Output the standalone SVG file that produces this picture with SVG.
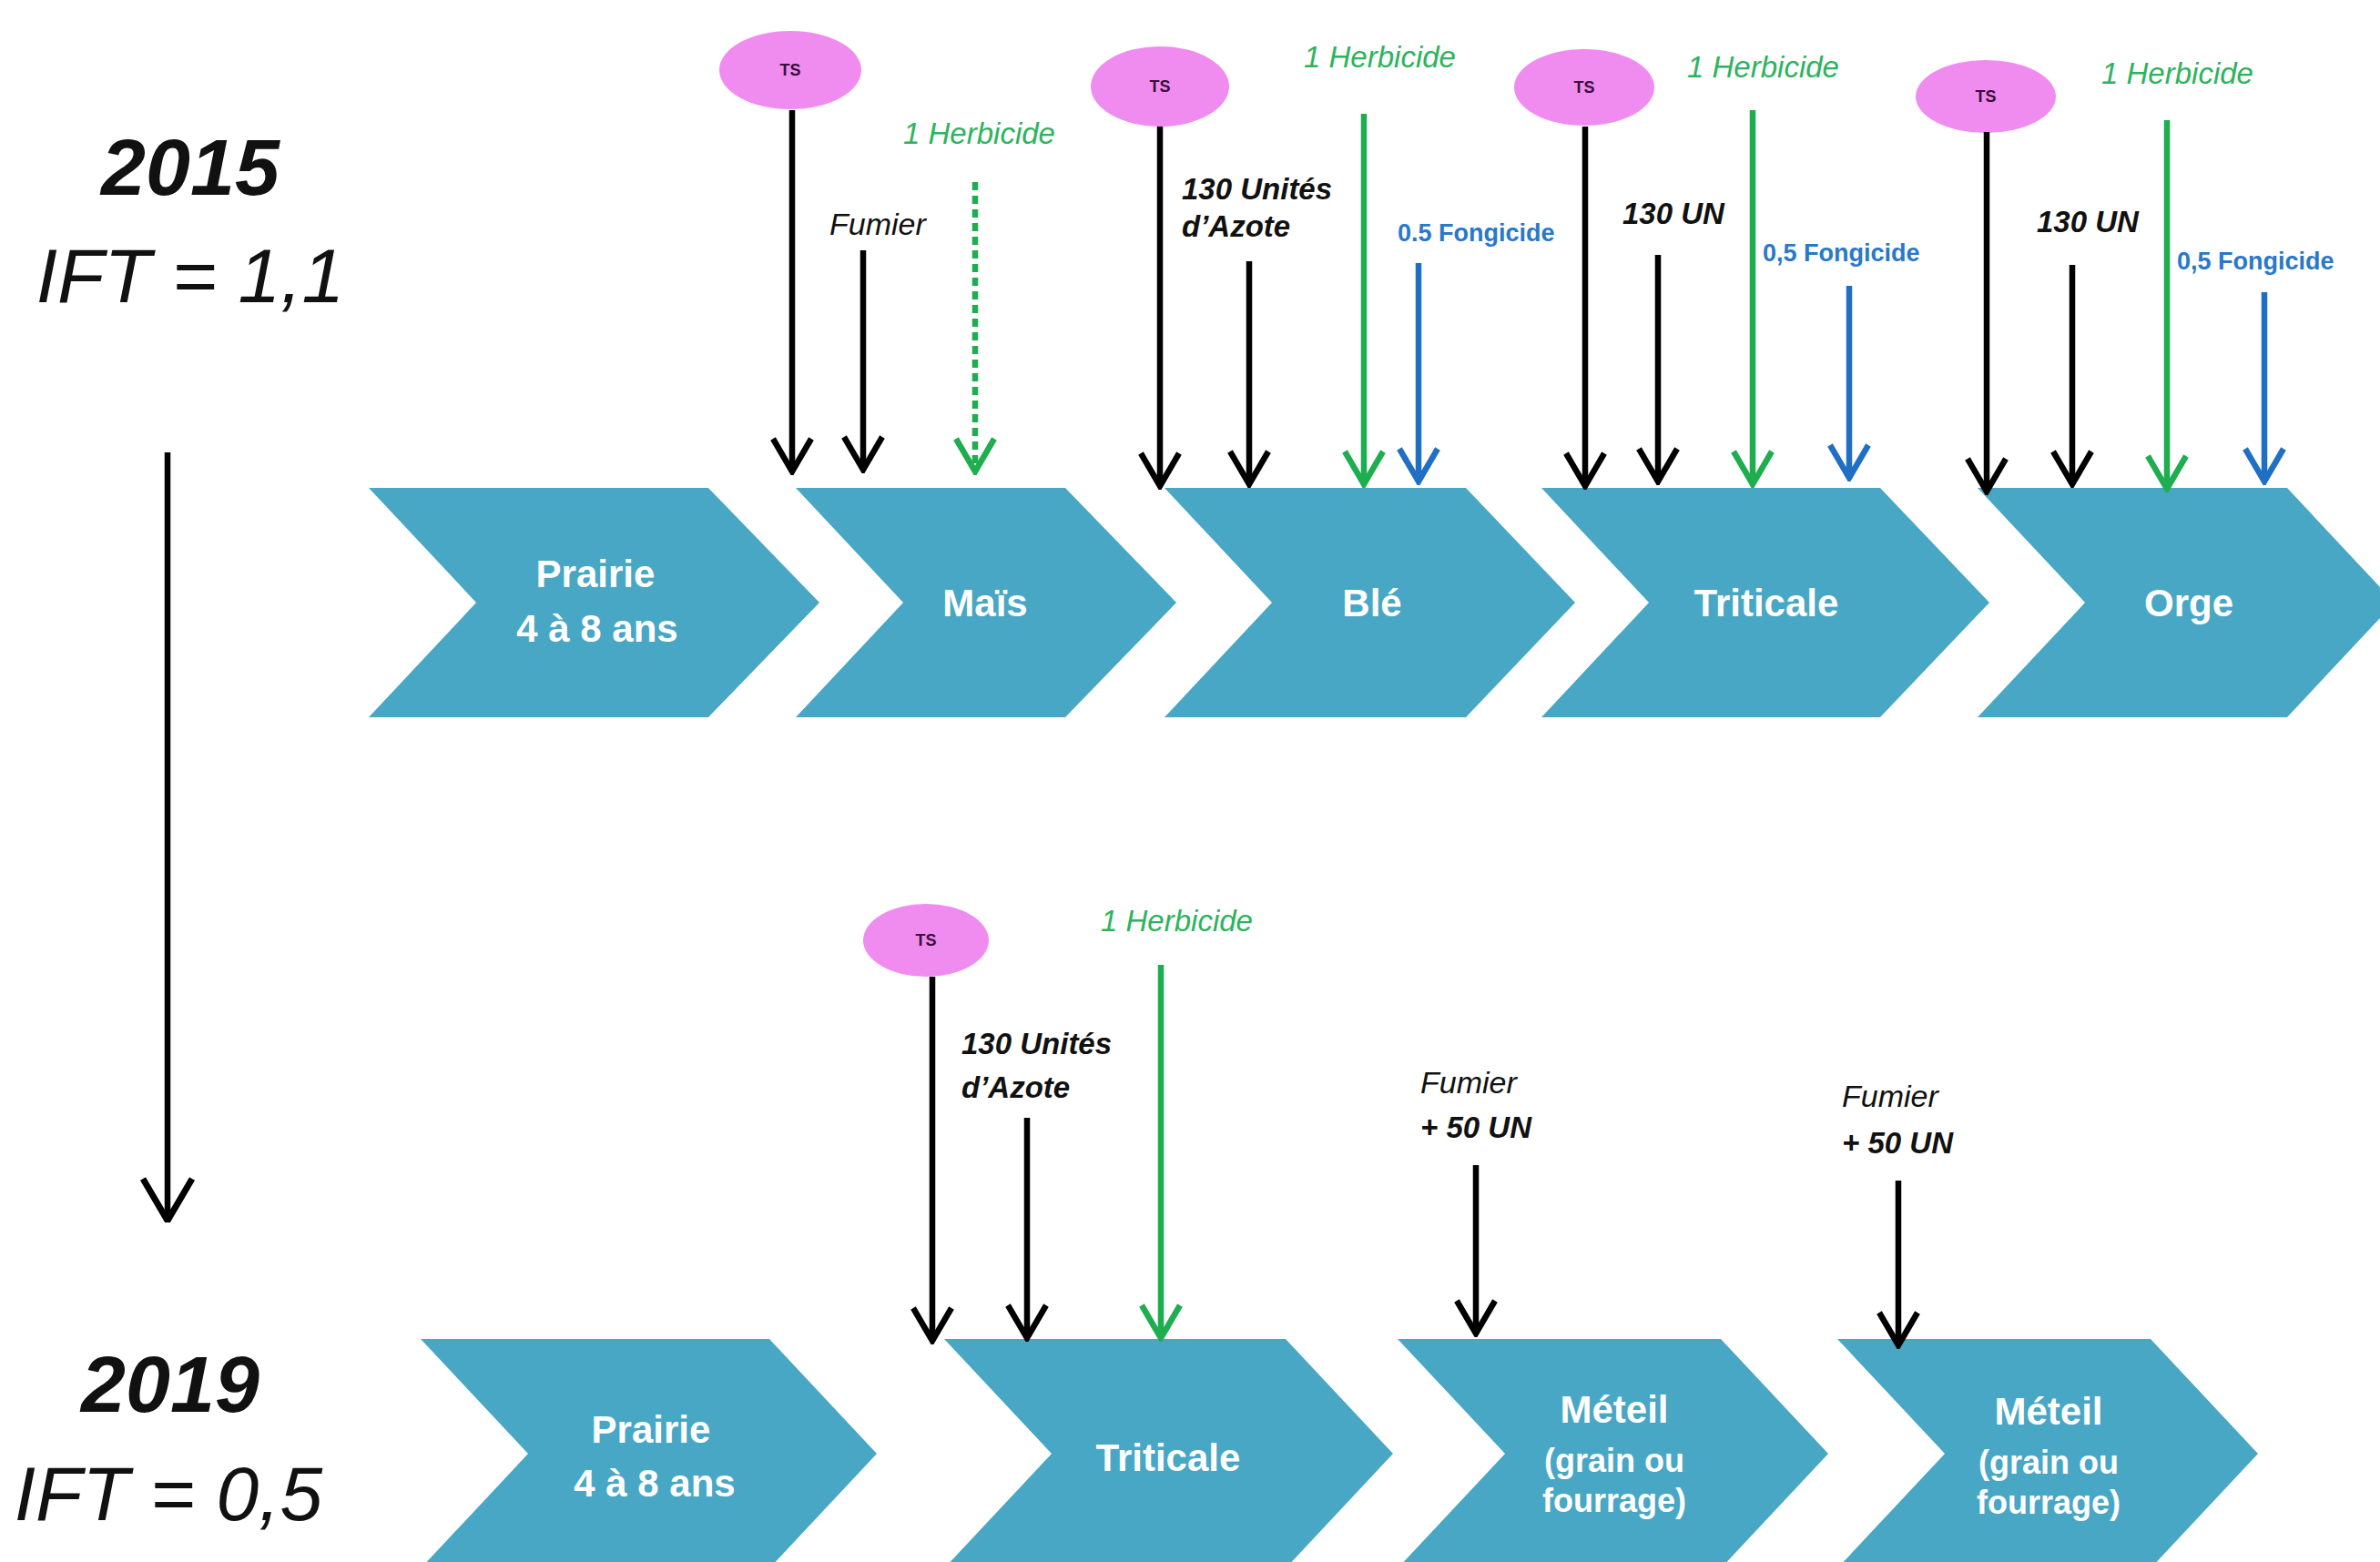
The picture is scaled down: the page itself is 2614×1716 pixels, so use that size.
<svg xmlns="http://www.w3.org/2000/svg" width="2614" height="1716" viewBox="0 0 2614 1716">
<style>
.chev{fill:#48a7c5}
.ct{font-family:"Liberation Sans",Arial,sans-serif;font-weight:bold;fill:#ffffff;text-anchor:middle;font-size:42px}
.cs{font-size:36px}
.ts{fill:#f08cf0}
.tst{font-family:"Liberation Sans",Arial,sans-serif;font-weight:bold;font-size:18px;fill:#3a0f38;text-anchor:middle}
.lb{font-family:"Liberation Sans",Arial,sans-serif;font-style:italic;font-size:34px;fill:#111}
.lbb{font-weight:bold;font-size:33px}
.gr{fill:#2db35d;font-size:33px}
.bl{font-family:"Liberation Sans",Arial,sans-serif;font-weight:bold;font-size:27px;fill:#2a78c8}
.yr{font-family:"Liberation Sans",Arial,sans-serif;font-style:italic;fill:#111;text-anchor:middle}
.ak{stroke:#000;stroke-width:6.5;fill:none}
.ag{stroke:#1ead4f;stroke-width:6.5;fill:none}
.ab{stroke:#1f6fc4;stroke-width:6.5;fill:none}
.dash{stroke-dasharray:9 6}
</style>
<defs>
<marker id="mk" viewBox="-4 -26 46 52" refX="38" refY="0" markerWidth="46" markerHeight="52" markerUnits="userSpaceOnUse" orient="auto">
<path d="M2,-21 L38,0 L2,21" fill="none" stroke="#000" stroke-width="6.5" stroke-linejoin="miter"/>
</marker>
<marker id="mg" viewBox="-4 -26 46 52" refX="38" refY="0" markerWidth="46" markerHeight="52" markerUnits="userSpaceOnUse" orient="auto">
<path d="M2,-21 L38,0 L2,21" fill="none" stroke="#1ead4f" stroke-width="6.5"/>
</marker>
<marker id="mb" viewBox="-4 -26 46 52" refX="38" refY="0" markerWidth="46" markerHeight="52" markerUnits="userSpaceOnUse" orient="auto">
<path d="M2,-21 L38,0 L2,21" fill="none" stroke="#1f6fc4" stroke-width="6.5"/>
</marker>
<marker id="mbig" viewBox="-4 -32 54 64" refX="48" refY="0" markerWidth="54" markerHeight="64" markerUnits="userSpaceOnUse" orient="auto">
<path d="M2,-27 L48,0 L2,27" fill="none" stroke="#000" stroke-width="7"/>
</marker>
</defs>
<rect width="2614" height="1716" fill="#ffffff"/>

<g id="title-2015">
<text class="yr" x="209" y="214" font-size="88" font-weight="bold">2015</text>
<text class="yr" x="209" y="332" font-size="84">IFT = 1,1</text>
</g>
<g id="title-2019">
<text class="yr" x="187" y="1551" font-size="88" font-weight="bold">2019</text>
<text class="yr" x="185" y="1670" font-size="84">IFT = 0,5</text>
</g>

<!-- 2015 row -->
<g id="n-prairie-2015">
<polygon class="chev" points="405,536 778,536 900,662 778,788 405,788 523,662"/>
<text class="ct" x="654" y="645">Prairie</text>
<text class="ct" x="656" y="705">4 à 8 ans</text>
</g>
<g id="n-mais-2015">
<polygon class="chev" points="874,536 1170,536 1292,662 1170,788 874,788 992,662"/>
<text class="ct" x="1082" y="677">Maïs</text>
</g>
<g id="n-ble-2015">
<polygon class="chev" points="1279,536 1610,536 1730,662 1610,788 1279,788 1397,662"/>
<text class="ct" x="1507" y="677">Blé</text>
</g>
<g id="n-triticale-2015">
<polygon class="chev" points="1693,536 2065,536 2185,662 2065,788 1693,788 1811,662"/>
<text class="ct" x="1940" y="677">Triticale</text>
</g>
<g id="n-orge-2015">
<polygon class="chev" points="2172,536 2512,536 2630,662 2512,788 2172,788 2290,662"/>
<text class="ct" x="2404" y="677">Orge</text>
</g>

<!-- 2019 row -->
<g id="n-prairie-2019">
<polygon class="chev" points="462,1471 845,1471 963,1597 845,1723 462,1723 580,1597"/>
<text class="ct" x="715" y="1585">Prairie</text>
<text class="ct" x="719" y="1644">4 à 8 ans</text>
</g>
<g id="n-triticale-2019">
<polygon class="chev" points="1037,1471 1412,1471 1530,1597 1412,1723 1037,1723 1155,1597"/>
<text class="ct" x="1283" y="1616">Triticale</text>
</g>
<g id="n-meteil1-2019">
<polygon class="chev" points="1535,1471 1890,1471 2008,1597 1890,1723 1535,1723 1653,1597"/>
<text class="ct" x="1773" y="1563" font-size="44">Méteil</text>
<text class="ct cs" x="1773" y="1617">(grain ou</text>
<text class="ct cs" x="1773" y="1661">fourrage)</text>
</g>
<g id="n-meteil2-2019">
<polygon class="chev" points="2018,1471 2362,1471 2480,1597 2362,1723 2018,1723 2136,1597"/>
<text class="ct" x="2250" y="1565" font-size="44">Méteil</text>
<text class="ct cs" x="2250" y="1619">(grain ou</text>
<text class="ct cs" x="2250" y="1663">fourrage)</text>
</g>

<!-- TS nodes -->
<g id="ts1"><ellipse class="ts" cx="868" cy="77" rx="78" ry="43"/><text class="tst" x="868" y="83">TS</text></g>
<g id="ts2"><ellipse class="ts" cx="1274" cy="95" rx="76" ry="44"/><text class="tst" x="1274" y="101">TS</text></g>
<g id="ts3"><ellipse class="ts" cx="1740" cy="96" rx="77" ry="42"/><text class="tst" x="1740" y="102">TS</text></g>
<g id="ts4"><ellipse class="ts" cx="2181" cy="106" rx="77" ry="40"/><text class="tst" x="2181" y="112">TS</text></g>
<g id="ts5"><ellipse class="ts" cx="1017" cy="1033" rx="69" ry="40"/><text class="tst" x="1017" y="1039">TS</text></g>

<!-- labels -->
<g id="labels">
<text class="lb gr" x="992" y="158">1 Herbicide</text>
<text class="lb" x="911" y="258">Fumier</text>
<text class="lb gr" x="1432" y="74">1 Herbicide</text>
<text class="lb lbb" x="1298" y="219">130 Unités</text>
<text class="lb lbb" x="1298" y="260">d’Azote</text>
<text class="bl" x="1535" y="265">0.5 Fongicide</text>
<text class="lb gr" x="1853" y="85">1 Herbicide</text>
<text class="lb lbb" x="1782" y="246">130 UN</text>
<text class="bl" x="1936" y="287">0,5 Fongicide</text>
<text class="lb gr" x="2308" y="92">1 Herbicide</text>
<text class="lb lbb" x="2237" y="255">130 UN</text>
<text class="bl" x="2391" y="296">0,5 Fongicide</text>
<text class="lb gr" x="1209" y="1023">1 Herbicide</text>
<text class="lb lbb" x="1056" y="1158">130 Unités</text>
<text class="lb lbb" x="1056" y="1206">d’Azote</text>
<text class="lb" x="1560" y="1201">Fumier</text>
<text class="lb lbb" x="1560" y="1250">+ 50 UN</text>
<text class="lb" x="2023" y="1216">Fumier</text>
<text class="lb lbb" x="2023" y="1267">+ 50 UN</text>
</g>

<!-- connectors -->
<g id="connectors">
<line class="ak" x1="184" y1="497" x2="184" y2="1341" marker-end="url(#mbig)"/>
<line class="ak" x1="870" y1="121" x2="870" y2="518" marker-end="url(#mk)"/>
<line class="ak" x1="948" y1="275" x2="948" y2="516" marker-end="url(#mk)"/>
<line class="ag dash" x1="1071" y1="200" x2="1071" y2="518" marker-end="url(#mg)"/>
<line class="ak" x1="1274" y1="139" x2="1274" y2="534" marker-end="url(#mk)"/>
<line class="ak" x1="1372" y1="287" x2="1372" y2="532" marker-end="url(#mk)"/>
<line class="ag" x1="1498" y1="125" x2="1498" y2="532" marker-end="url(#mg)"/>
<line class="ab" x1="1558" y1="289" x2="1558" y2="529" marker-end="url(#mb)"/>
<line class="ak" x1="1741" y1="139" x2="1741" y2="534" marker-end="url(#mk)"/>
<line class="ak" x1="1821" y1="280" x2="1821" y2="529" marker-end="url(#mk)"/>
<line class="ag" x1="1925" y1="121" x2="1925" y2="532" marker-end="url(#mg)"/>
<line class="ab" x1="2031" y1="314" x2="2031" y2="525" marker-end="url(#mb)"/>
<line class="ak" x1="2182" y1="145" x2="2182" y2="540" marker-end="url(#mk)"/>
<line class="ak" x1="2276" y1="291" x2="2276" y2="532" marker-end="url(#mk)"/>
<line class="ag" x1="2380" y1="132" x2="2380" y2="537" marker-end="url(#mg)"/>
<line class="ab" x1="2487" y1="321" x2="2487" y2="529" marker-end="url(#mb)"/>
<line class="ak" x1="1024" y1="1073" x2="1024" y2="1473" marker-end="url(#mk)"/>
<line class="ak" x1="1128" y1="1228" x2="1128" y2="1470" marker-end="url(#mk)"/>
<line class="ag" x1="1275" y1="1060" x2="1275" y2="1470" marker-end="url(#mg)"/>
<line class="ak" x1="1621" y1="1280" x2="1621" y2="1465" marker-end="url(#mk)"/>
<line class="ak" x1="2085" y1="1297" x2="2085" y2="1478" marker-end="url(#mk)"/>
</g>
</svg>
